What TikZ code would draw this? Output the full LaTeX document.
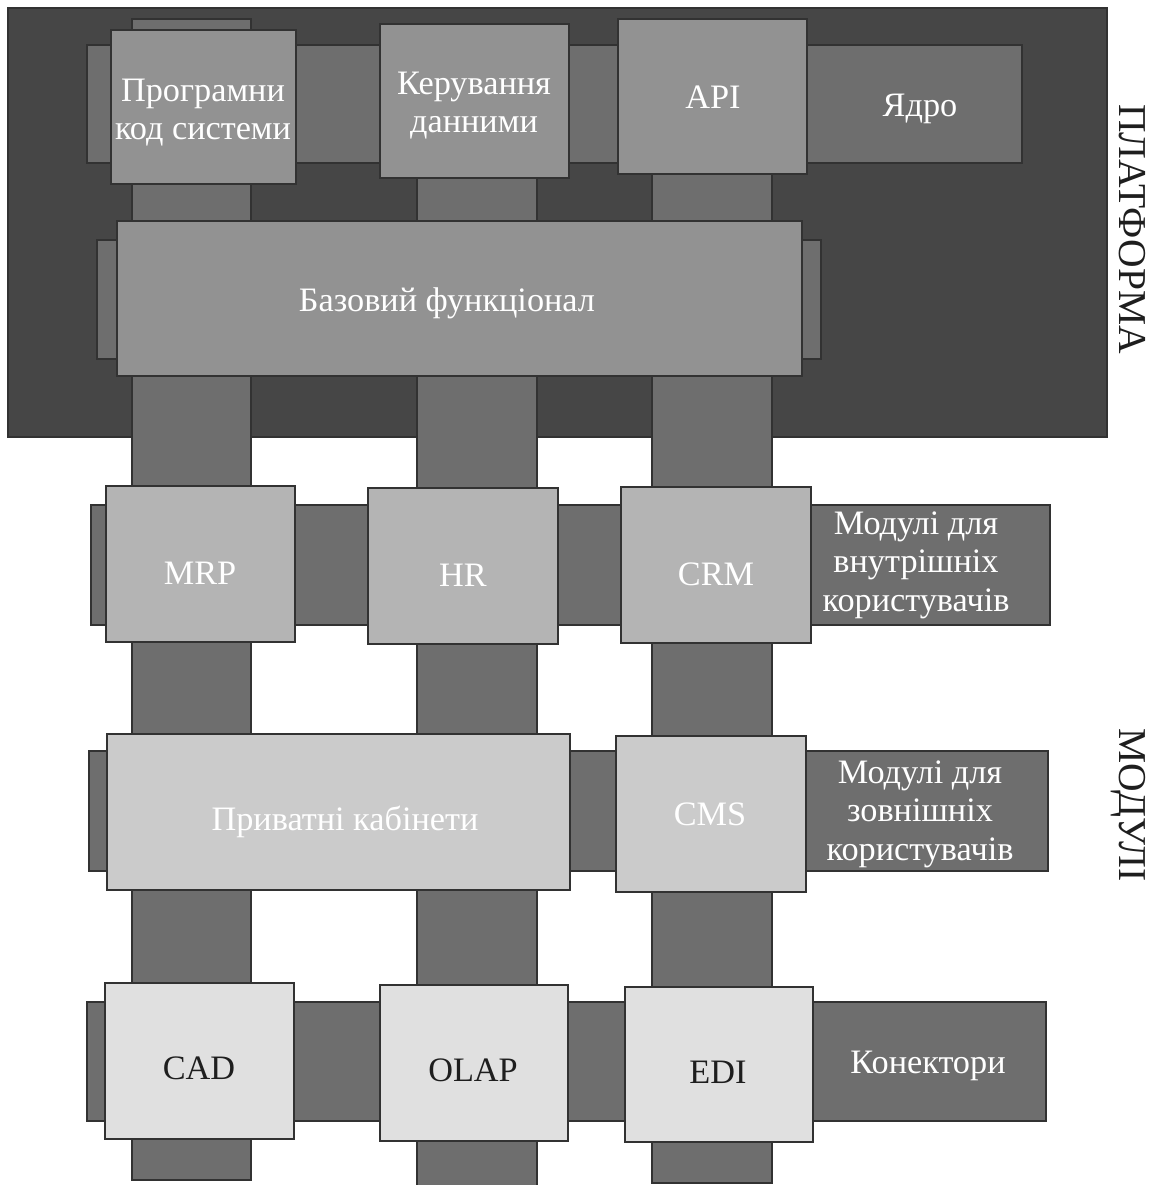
\documentclass[tikz,border=0pt]{standalone}
\usepackage{fontspec}
\setmainfont{Liberation Serif}
\usetikzlibrary{fit}
\definecolor{platformfill}{RGB}{70,70,70}
\definecolor{barfill}{RGB}{110,110,110}
\definecolor{corefill}{RGB}{146,146,146}
\definecolor{innerfill}{RGB}{180,180,180}
\definecolor{outerfill}{RGB}{203,203,203}
\definecolor{connfill}{RGB}{224,224,224}
\definecolor{darkline}{RGB}{50,50,50}
\definecolor{darktext}{RGB}{30,30,30}

\begin{document}
\begin{tikzpicture}[x=0.02cm, y=-0.02cm,
  edge/.style={draw=darkline, line width=0.8pt, inner sep=0pt, outer sep=0pt},
  bar/.style={edge, fill=barfill},
  coreblk/.style={edge, fill=corefill},
  innerblk/.style={edge, fill=innerfill},
  outerblk/.style={edge, fill=outerfill},
  connblk/.style={edge, fill=connfill},
  lbl/.style={font=\fontsize{19.5}{21.8}\selectfont, text=white, align=center,
              anchor=base, inner sep=0pt},
  side/.style={font=\fontsize{22.5}{25}\selectfont, text=darktext, rotate=-90,
               anchor=base, inner sep=0pt}]

\useasboundingbox[fill=white] (0,0) rectangle (1151,1185);

%---------------------------------------
% Platform background
%---------------------------------------
\node[edge, fill=platformfill, fit={(8,8) (1107,437)}] (platform) {};
\node[side] (platformL) at (1119,229) {ПЛАТФОРМА};
\node[side] (modulesL) at (1119,805) {МОДУЛІ};

%---------------------------------------
% Columns (run through all layers)
%---------------------------------------
\node[bar, fit={(132,19) (251,1180)}] (col1) {};
\node[bar, fit={(417,30) (537,1192)}] (col2) {};
\node[bar, fit={(652,30) (772,1183)}] (col3) {};

%====================================================
% PLATFORM: core row and base
%====================================================
\node[bar, fit={(87,45) (1022,163)}] (corebar) {};
\node[lbl] (coreL) at (920,117) {Ядро};

% (base anchor of a multi-line label = its last line)
\node[coreblk, fit={(111,30) (296,184)}] (code) {};
\node[lbl] (codeL) at (203,140) {Програмни\\код системи};
\node[coreblk, fit={(380,24) (569,178)}] (data) {};
\node[lbl] (dataL) at (474,133) {Керування\\данними};
\node[coreblk, fit={(618,19) (807,174)}] (api) {};
\node[lbl] (apiL) at (713,109) {API};

\node[bar, fit={(97,240) (821,359)}] (basebar) {};
\node[coreblk, fit={(117,221) (802,376)}] (base) {};
\node[lbl] (baseL) at (447,312) {Базовий функціонал};

%====================================================
% MODULES: internal users
%====================================================
\node[bar, fit={(91,505) (1050,625)}] (innerbar) {};
\node[lbl] (innerL) at (916,611) {Модулі для\\внутрішніх\\користувачів};

\node[innerblk, fit={(106,486) (295,642)}] (mrp) {};
\node[lbl] (mrpL) at (200,584) {MRP};
\node[innerblk, fit={(368,488) (558,644)}] (hr) {};
\node[lbl] (hrL) at (463,586) {HR};
\node[innerblk, fit={(621,487) (811,643)}] (crm) {};
\node[lbl] (crmL) at (716,585) {CRM};

%====================================================
% MODULES: external users
%====================================================
\node[bar, fit={(89,751) (1048,871)}] (outerbar) {};
\node[lbl] (outerL) at (920,860) {Модулі для\\зовнішніх\\користувачів};

\node[outerblk, fit={(107,734) (570,890)}] (cabinet) {};
\node[lbl] (cabinetL) at (345,830) {Приватні кабінети};
\node[outerblk, fit={(616,736) (806,892)}] (cms) {};
\node[lbl] (cmsL) at (710,825) {CMS};

%====================================================
% CONNECTORS
%====================================================
\node[bar, fit={(87,1002) (1046,1121)}] (connbar) {};
\node[lbl] (connL) at (928,1073) {Конектори};

\node[connblk, fit={(105,983) (294,1139)}] (cad) {};
\node[lbl, text=darktext] (cadL) at (199,1079) {CAD};
\node[connblk, fit={(380,985) (568,1141)}] (olap) {};
\node[lbl, text=darktext] (olapL) at (473,1081) {OLAP};
\node[connblk, fit={(625,987) (813,1142)}] (edi) {};
\node[lbl, text=darktext] (ediL) at (718,1083) {EDI};

\end{tikzpicture}
\end{document}
